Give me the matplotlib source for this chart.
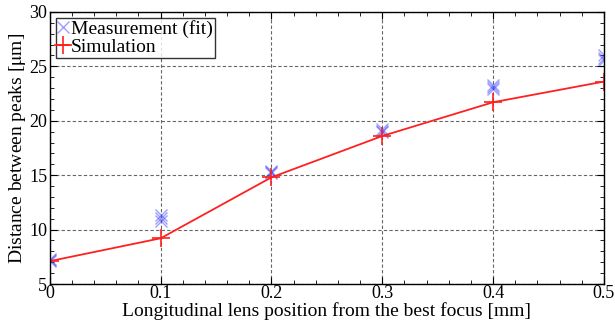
import numpy as np
import matplotlib
matplotlib.use('Agg')
import matplotlib.pyplot as plt
from matplotlib.ticker import MultipleLocator

# --- DATA ---
x_pos = [0, 0.1, 0.2, 0.3, 0.4, 0.5]
x_labels = ['0', '0.1', '0.2', '0.3', '0.4', '0.5']
# repeated measurements (fit) at each lens position
meas_1 = [7.1, 10.8, 15.2, 19.0, 22.9, 25.6]
meas_2 = [7.2, 11.1, 15.3, 19.1, 23.1, 25.8]
meas_3 = [7.3, 11.3, 15.4, 19.2, 23.3, 26.0]
sim = [7.1, 9.2, 14.8, 18.6, 21.7, 23.6]

plt.rcParams['font.family'] = ['Liberation Serif', 'DejaVu Serif']
plt.rcParams['mathtext.fontset'] = 'stix'

fig = plt.figure(figsize=(6.15, 3.22), dpi=100)
ax = fig.add_axes([0.081, 0.118, 0.901, 0.845])

for k, m in enumerate([meas_1, meas_2, meas_3]):
    ax.plot(x_pos, m, linestyle='none', marker='x', color='#4040ff', alpha=0.5,
            markersize=9, markeredgewidth=1.0,
            label='Measurement (fit)' if k == 0 else None)
ax.plot(x_pos, sim, color='#ff2020', linewidth=1.3, marker='+', markersize=13,
        markeredgewidth=1.2, label='Simulation')

ax.set_xlim(0, 0.5)
ax.set_ylim(5, 30)
ax.set_xticks(x_pos)
ax.set_xticklabels(x_labels)
ax.xaxis.set_minor_locator(MultipleLocator(0.02))
ax.yaxis.set_major_locator(MultipleLocator(5))
ax.yaxis.set_minor_locator(MultipleLocator(1))
ax.tick_params(which='both', direction='in', top=True, right=True, labelsize=13)
ax.tick_params(axis='x', pad=1)
ax.tick_params(axis='y', pad=2)
ax.tick_params(which='major', length=5)
ax.tick_params(which='minor', length=3)
ax.grid(True, which='major', linestyle=(0, (3, 2)), color='#666666', linewidth=0.8)
for s in ax.spines.values():
    s.set_linewidth(1.0)

ax.set_xlabel('Longitudinal lens position from the best focus [mm]', fontsize=14, labelpad=0)
ax.set_ylabel('Distance between peaks [$\\mathrm{\\mu}$m]', fontsize=14, labelpad=1)

leg = ax.legend(loc='upper left', fontsize=14, frameon=True, fancybox=False,
                edgecolor='black', handlelength=0.6, handletextpad=0.1,
                borderpad=0.1, labelspacing=0.05, borderaxespad=0.3)
leg.get_frame().set_linewidth(1.0)

fig.savefig('out.png', dpi=100)
